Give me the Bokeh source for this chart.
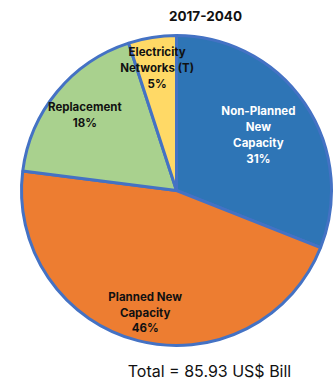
import math
from bokeh.plotting import figure
from bokeh.models import Range1d, ColumnDataSource
from bokeh.core.properties import value
from bokeh.embed import file_html
from bokeh.resources import INLINE

labels = ["Non-Planned\nNew\nCapacity\n31%", "Planned New\nCapacity\n46%",
          "Replacement\n18%", "Electricity\nNetworks (T)\n5%"]
shares = [31, 46, 18, 5]
colors = ["#2E75B6", "#ED7D31", "#A9D18E", "#FFD966"]
text_colors = ["white", "#111111", "#111111", "#111111"]
title = "2017-2040"
total_text = "Total = 85.93 US$ Bill"

W, H = 335, 379
cx, cy, R = 176, H - 190, 155
label_r = [99, 126, 119, 124]

total = sum(shares)
starts, ends, lx, ly = [], [], [], []
acc = 0.0
for i, s in enumerate(shares):
    a0 = math.pi / 2 - 2 * math.pi * acc / total
    acc += s
    a1 = math.pi / 2 - 2 * math.pi * acc / total
    starts.append(a0)
    ends.append(a1)
    mid = (a0 + a1) / 2
    lx.append(cx + label_r[i] * math.cos(mid))
    ly.append(cy + label_r[i] * math.sin(mid))

src = ColumnDataSource(dict(start=starts, end=ends, color=colors,
                            lx=lx, ly=ly, label=labels, tc=text_colors))

p = figure(width=W, height=H, output_backend="svg", toolbar_location=None,
           x_range=Range1d(0, W), y_range=Range1d(0, H), min_border=0)
p.axis.visible = False
p.grid.visible = False
p.outline_line_color = None
p.background_fill_color = "white"

p.wedge(x=cx, y=cy, radius=R, start_angle="start", end_angle="end",
        direction="clock", fill_color="color", line_color="#4472C4",
        line_width=3, source=src)

p.text(x="lx", y="ly", text="label", text_color="tc", source=src,
       text_font=value("Inter"), text_font_style="bold",
       text_font_size="11.5px", text_align="center", text_baseline="middle",
       text_line_height=1.13)

p.text(x=[205], y=[H - 15], text=[title], text_font=value("Inter"),
       text_font_style="bold", text_font_size="13.5px", text_align="center",
       text_baseline="middle", text_color="#111111")
p.text(x=[209], y=[H - 370], text=[total_text], text_font=value("Inter"),
       text_font_size="16px", text_align="center", text_baseline="middle",
       text_color="#111111")

open("out.html", "w").write(file_html(p, INLINE))
